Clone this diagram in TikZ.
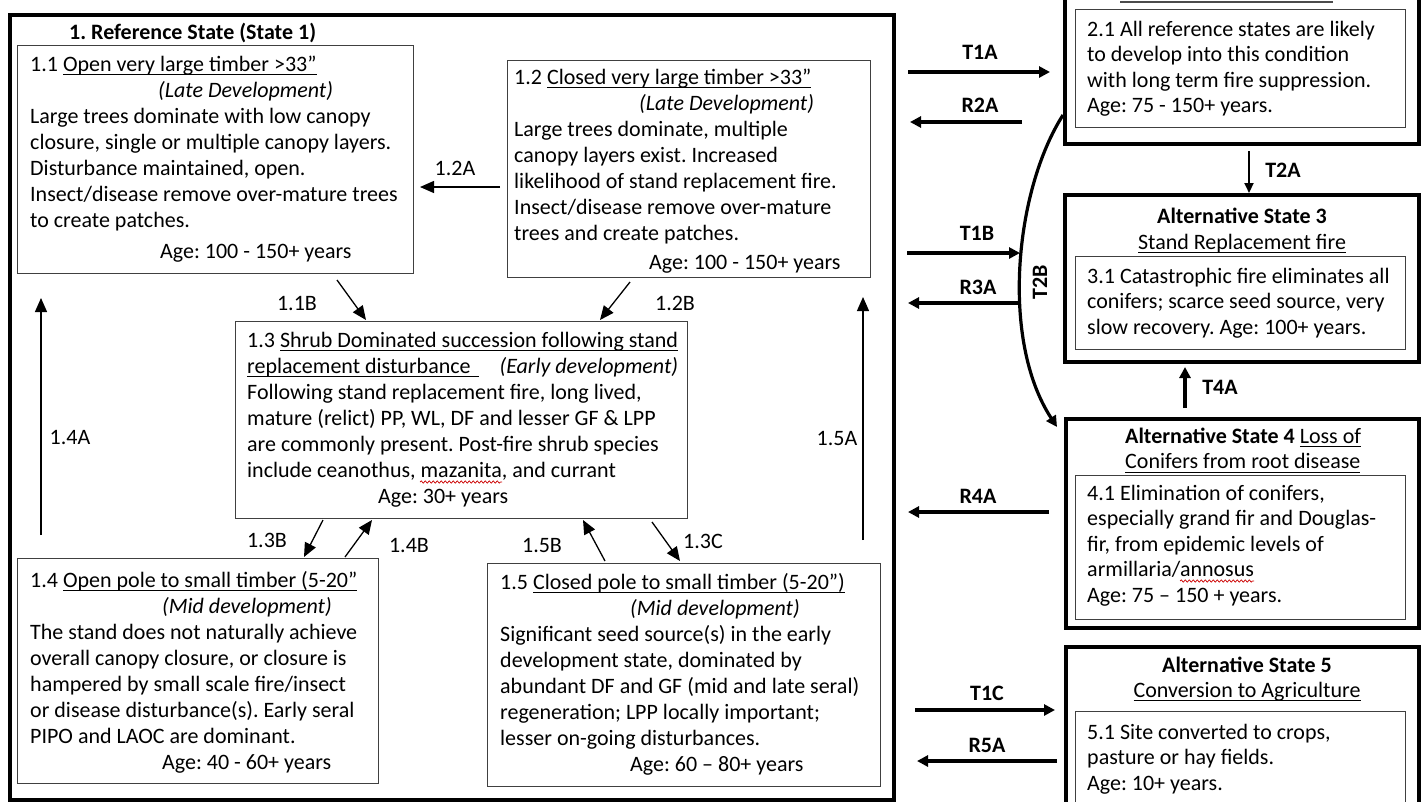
\documentclass[tikz,border=0pt]{standalone}
\usepackage{fontspec}
\setmainfont{Carlito}
\usetikzlibrary{arrows.meta,decorations.pathmorphing}
\frenchspacing
\newcommand\uln[1]{\setbox0\hbox{#1}\rlap{\vrule width\wd0 height -3pt depth 4.3pt}\box0}
\newcommand\bodyfont{\fontsize{22}{26}\selectfont\frenchspacing}
\newcommand\rightfont{\fontsize{22}{25.5}\selectfont\frenchspacing}
\tikzset{
  inbox/.style={draw=black!75, line width=1.3pt, rectangle, inner sep=0pt, anchor=north west},
  statebox/.style={draw=black, line width=4pt, rectangle, inner sep=0pt, anchor=north west},
  framebox/.style={draw=black, line width=3.5pt, rectangle, inner sep=0pt, anchor=north west},
  para/.style={anchor=base west, inner sep=0pt, font=\bodyfont},
  rpara/.style={anchor=base west, inner sep=0pt, font=\rightfont},
  lbl/.style={inner sep=0pt, font=\bodyfont},
  blbl/.style={inner sep=0pt, font=\bodyfont\bfseries},
  thinarr/.style={line width=1.3pt, -{Triangle[length=14pt,width=12pt]}},
  thickarr/.style={line width=3.2pt, -{Triangle[length=11pt,width=11pt]}},
  medarr/.style={line width=2pt, -{Triangle[length=10pt,width=9pt]}},
  wave/.style={draw=red!80!black, line width=0.7pt, decorate, decoration={snake, amplitude=1.1pt, segment length=4pt}},
}
\begin{document}
\begin{tikzpicture}[x=1pt,y=-1pt]
\useasboundingbox (0,0) rectangle (1421,801);
\clip (0,0) rectangle (1421,801);
\fill[white] (0,0) rectangle (1421,801);

% ---------- State 1 frame ----------
\node[framebox, minimum width=884pt, minimum height=785pt] (s1) at (8,13) {};
\node[blbl, anchor=base west] (t1) at (69,39) {1. Reference State (State 1)};

% boxes
\node[inbox, minimum width=396pt, minimum height=228pt] (b11) at (17,45) {};
\node[inbox, minimum width=363pt, minimum height=217pt] (b12) at (507,60) {};
\node[inbox, minimum width=452pt, minimum height=197pt] (b13) at (235,321) {};
\node[inbox, minimum width=361pt, minimum height=225pt] (b14) at (17,558) {};
\node[inbox, minimum width=393pt, minimum height=223pt] (b15) at (487,563) {};

\node[para] (p11) at (30,71) {\begin{tabular}[t]{@{}l@{}}
1.1 \uln{Open very large timber >33”}\\
\hspace*{128pt}\textit{(Late Development)}\\
Large trees dominate with low canopy\\
closure, single or multiple canopy layers.\\
Disturbance maintained, open.\\
Insect/disease remove over-mature trees\\
to create patches.\\[5pt]
\hspace*{130pt}Age: 100 - 150+ years
\end{tabular}};

\node[para] (p12) at (514,84) {\begin{tabular}[t]{@{}l@{}}
1.2 \uln{Closed very large timber >33”}\\
\hspace*{125pt}\textit{(Late Development)}\\
Large trees dominate, multiple\\
canopy layers exist. Increased\\
likelihood of stand replacement fire.\\
Insect/disease remove over-mature\\
trees and create patches.\\[3pt]
\hspace*{135pt}Age: 100 - 150+ years
\end{tabular}};

\node[para] (p13) at (247,347) {\begin{tabular}[t]{@{}l@{}}
1.3 \uln{Shrub Dominated succession following stand}\\
\uln{replacement disturbance\hspace*{8pt}}\hfill\textit{(Early development)}\\
Following stand replacement fire, long lived,\\
mature (relict) PP, WL, DF and lesser GF \& LPP\\
are commonly present. Post-fire shrub species\\
include ceanothus, mazanita, and currant\\
\hspace*{131pt}Age: 30+ years
\end{tabular}};
\coordinate (w1a) at (420,482); \coordinate (w1b) at (502,482);
\path[wave] (w1a) -- (w1b);

\node[para] (p14) at (30,587) {\begin{tabular}[t]{@{}l@{}}
1.4 \uln{Open pole to small timber (5-20”}\\
\hspace*{132pt}\textit{(Mid development)}\\
The stand does not naturally achieve\\
overall canopy closure, or closure is\\
hampered by small scale fire/insect\\
or disease disturbance(s). Early seral\\
PIPO and LAOC are dominant.\\
\hspace*{132pt}Age: 40 - 60+ years
\end{tabular}};

\node[para] (p15) at (500,589) {\begin{tabular}[t]{@{}l@{}}
1.5 \uln{Closed pole to small timber (5-20”)}\\
\hspace*{130pt}\textit{(Mid development)}\\
Significant seed source(s) in the early\\
development state, dominated by\\
abundant DF and GF (mid and late seral)\\
regeneration; LPP locally important;\\
lesser on-going disturbances.\\
\hspace*{130pt}Age: 60 – 80+ years
\end{tabular}};

% state 1 arrows
\coordinate (a12As) at (500,187); \coordinate (a12Ae) at (420,187);
\draw[thinarr] (a12As) -- (a12Ae);
\node[lbl] (l12A) at (455,168) {1.2A};
\coordinate (a11Bs) at (337,280); \coordinate (a11Be) at (366,320);
\draw[thinarr] (a11Bs) -- (a11Be);
\node[lbl] (l11B) at (297,303) {1.1B};
\coordinate (a12Bs) at (630,282); \coordinate (a12Be) at (600,320);
\draw[thinarr] (a12Bs) -- (a12Be);
\node[lbl] (l12B) at (675,303) {1.2B};
\coordinate (a13Bs) at (323,520); \coordinate (a13Be) at (304,557);
\draw[thinarr] (a13Bs) -- (a13Be);
\node[lbl] (l13B) at (267,540) {1.3B};
\coordinate (a14Bs) at (345,557); \coordinate (a14Be) at (372,520);
\draw[thinarr] (a14Bs) -- (a14Be);
\node[lbl] (l14B) at (409,545) {1.4B};
\coordinate (a15Bs) at (605,561); \coordinate (a15Be) at (583,520);
\draw[thinarr] (a15Bs) -- (a15Be);
\node[lbl] (l15B) at (542,545) {1.5B};
\coordinate (a13Cs) at (652,522); \coordinate (a13Ce) at (680,561);
\draw[thinarr] (a13Cs) -- (a13Ce);
\node[lbl] (l13C) at (703,541) {1.3C};
\coordinate (a14As) at (41,535); \coordinate (a14Ae) at (41,298);
\draw[thinarr] (a14As) -- (a14Ae);
\node[lbl] (l14A) at (70,437) {1.4A};
\coordinate (a15As) at (863,540); \coordinate (a15Ae) at (863,297);
\draw[thinarr] (a15As) -- (a15Ae);
\node[lbl] (l15A) at (837,438) {1.5A};

% ---------- State 2 ----------
\node[statebox, minimum width=354pt, minimum height=162pt] (s2) at (1063,-20) {};
\node[inbox, minimum width=330pt, minimum height=118pt] (s2in) at (1075,9) {};
\coordinate (u2a) at (1120,2); \coordinate (u2b) at (1333,2);
\draw[line width=1.2pt, black!70] (u2a) -- (u2b);
\node[rpara] (p21) at (1087,36) {\begin{tabular}[t]{@{}l@{}}
2.1 All reference states are likely\\
to develop into this condition\\
with long term fire suppression.\\
Age: 75 - 150+ years.
\end{tabular}};

% ---------- State 3 ----------
\node[statebox, minimum width=354pt, minimum height=167pt] (s3) at (1063,193) {};
\node[inbox, minimum width=330pt, minimum height=93pt] (s3in) at (1075,256) {};
\node[blbl, anchor=base] (t3) at (1242,223) {Alternative State 3};
\node[lbl, anchor=base] (t3b) at (1242,249) {\uln{Stand Replacement fire}};
\node[rpara] (p31) at (1087,283) {\begin{tabular}[t]{@{}l@{}}
3.1 Catastrophic fire eliminates all\\
conifers; scarce seed source, very\\
slow recovery. Age: 100+ years.
\end{tabular}};

% ---------- State 4 ----------
\node[statebox, minimum width=353pt, minimum height=209pt] (s4) at (1064,417) {};
\node[inbox, minimum width=330pt, minimum height=144pt] (s4in) at (1075,475) {};
\node[rpara] (t4) at (1125,443) {\begin{tabular}[t]{@{}l@{}}
\textbf{Alternative State 4} \uln{Loss of}\\
\uln{Conifers from root disease}
\end{tabular}};
\node[rpara] (p41) at (1087,500) {\begin{tabular}[t]{@{}l@{}}
4.1 Elimination of conifers,\\
especially grand fir and Douglas-\\
fir, from epidemic levels of\\
armillaria/annosus\\
Age: 75 – 150 + years.
\end{tabular}};
\coordinate (w2a) at (1180,581); \coordinate (w2b) at (1254,581);
\path[wave] (w2a) -- (w2b);

% ---------- State 5 ----------
\node[statebox, minimum width=353pt, minimum height=185pt] (s5) at (1064,645) {};
\node[inbox, minimum width=330pt, minimum height=104pt] (s5in) at (1075,711) {};
\node[blbl, anchor=base] (t5) at (1247,672) {Alternative State 5};
\node[lbl, anchor=base] (t5b) at (1247,697) {\uln{Conversion to Agriculture}};
\node[rpara] (p51) at (1087,739) {\begin{tabular}[t]{@{}l@{}}
5.1 Site converted to crops,\\
pasture or hay fields.\\
Age: 10+ years.
\end{tabular}};

% ---------- transitions ----------
\coordinate (T1As) at (908,72); \coordinate (T1Ae) at (1050,72);
\draw[thickarr] (T1As) -- (T1Ae);
\node[blbl] (lT1A) at (980,52) {T1A};
\coordinate (R2As) at (1022,122); \coordinate (R2Ae) at (910,122);
\draw[thickarr] (R2As) -- (R2Ae);
\node[blbl] (lR2A) at (980,105) {R2A};
\coordinate (T2As) at (1249,151); \coordinate (T2Ae) at (1249,193);
\draw[medarr] (T2As) -- (T2Ae);
\node[blbl] (lT2A) at (1283,170) {T2A};

\coordinate (T2Bs) at (1063,115); \coordinate (T2Be) at (1057,427);
\draw[thickarr] (T2Bs) .. controls (1015,190) and (1000,340) .. (T2Be);
\node[blbl, rotate=90] (lT2B) at (1040,282) {T2B};

\coordinate (T1Bs) at (907,253); \coordinate (T1Be) at (1020,253);
\draw[thickarr] (T1Bs) -- (T1Be);
\node[blbl] (lT1B) at (977,233) {T1B};
\coordinate (R3As) at (1020,303); \coordinate (R3Ae) at (908,303);
\draw[thickarr] (R3As) -- (R3Ae);
\node[blbl] (lR3A) at (978,287) {R3A};

\coordinate (T4As) at (1185,408); \coordinate (T4Ae) at (1185,367);
\draw[thickarr] (T4As) -- (T4Ae);
\node[blbl] (lT4A) at (1220,387) {T4A};

\coordinate (R4As) at (1049,512); \coordinate (R4Ae) at (908,512);
\draw[thickarr] (R4As) -- (R4Ae);
\node[blbl] (lR4A) at (978,496) {R4A};

\coordinate (T1Cs) at (915,710); \coordinate (T1Ce) at (1055,710);
\draw[thickarr] (T1Cs) -- (T1Ce);
\node[blbl] (lT1C) at (987,693) {T1C};
\coordinate (R5As) at (1057,761); \coordinate (R5Ae) at (917,761);
\draw[thickarr] (R5As) -- (R5Ae);
\node[blbl] (lR5A) at (987,745) {R5A};
\end{tikzpicture}
\end{document}
